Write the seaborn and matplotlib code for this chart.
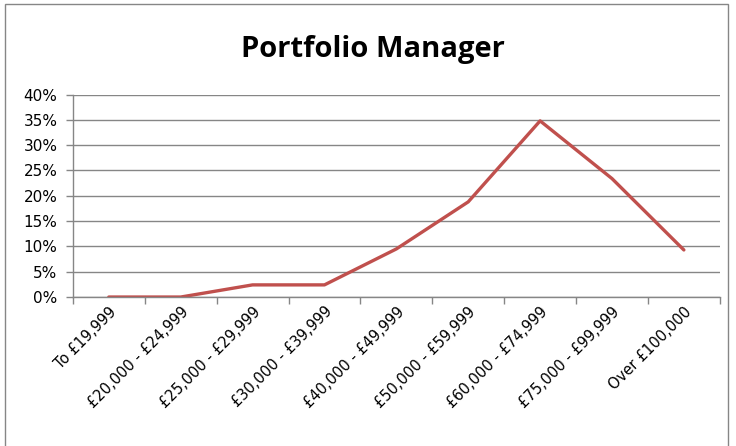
import matplotlib
matplotlib.use("Agg")
import matplotlib.pyplot as plt
import matplotlib.transforms as mtransforms
import seaborn as sns
import numpy as np
from matplotlib.patches import Rectangle
from matplotlib.ticker import FixedLocator, PercentFormatter

# salary bands and share of portfolio managers (%)
bands = ["To £19,999", "£20,000 - £24,999", "£25,000 - £29,999", "£30,000 - £39,999",
         "£40,000 - £49,999", "£50,000 - £59,999", "£60,000 - £74,999",
         "£75,000 - £99,999", "Over £100,000"]
share = [0.0, 0.0, 2.4, 2.4, 9.5, 18.8, 34.8, 23.4, 9.3]

sns.set_style("white")
plt.rcParams['font.family'] = ['DejaVu Sans']

fig = plt.figure(figsize=(7.36, 4.46), dpi=100)
ax = fig.add_axes([0.099, 0.334, 0.879, 0.454])

pos = np.arange(len(bands))
sns.lineplot(x=pos, y=share, ax=ax, color="#C0504D", linewidth=2.4, sort=False)

ax.set_xlim(-0.5, len(bands) - 0.5)
ax.set_ylim(0, 40)
ax.set_yticks(np.arange(0, 41, 5))
ax.yaxis.set_major_formatter(PercentFormatter(decimals=0))
ax.set_xticks(pos)
ax.set_xticklabels(bands, rotation=45, ha="right", rotation_mode="anchor",
                   fontsize=10.5, color="black")
shift = mtransforms.ScaledTranslation(6 / 72, 0, fig.dpi_scale_trans)
for lab in ax.get_xticklabels():
    lab.set_transform(lab.get_transform() + shift)
ax.xaxis.set_minor_locator(FixedLocator(np.arange(-0.5, len(bands), 1)))
ax.tick_params(axis="x", which="major", length=0, pad=5)
ax.tick_params(axis="x", which="minor", length=5, color="#868686", width=1, direction="out", bottom=True)
ax.tick_params(axis="y", length=5, color="#868686", width=1, direction="out", left=True,
               labelsize=11, labelcolor="black", pad=6)
ax.set_xlabel("")
ax.set_ylabel("")

ax.grid(axis="y", color="#868686", linewidth=1)
ax.set_axisbelow(True)
for side in ["top", "right"]:
    ax.spines[side].set_visible(False)
for side in ["left", "bottom"]:
    ax.spines[side].set_color("#868686")
    ax.spines[side].set_linewidth(1)

fig.text(0.507, 0.888, "Portfolio Manager", ha="center", va="center", color="black",
         fontsize=21, fontweight="bold", family=["Open Sans", "DejaVu Sans"])

# chart area border
fig.patches.append(Rectangle((0.007, -0.01), 0.982, 1.0, transform=fig.transFigure,
                             fill=False, edgecolor="#868686", linewidth=1))

fig.savefig("out.png", dpi=100)
